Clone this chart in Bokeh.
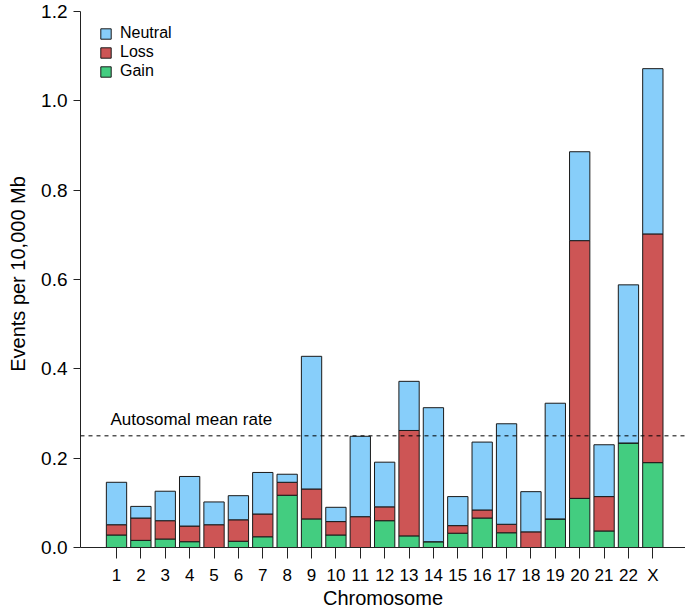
from bokeh.plotting import figure
from bokeh.models import FixedTicker, Span, Legend, LegendItem, ColumnDataSource, NumeralTickFormatter
from bokeh.embed import file_html
from bokeh.resources import INLINE
from bokeh.core.properties import value

chromosomes = ["1", "2", "3", "4", "5", "6", "7", "8", "9", "10", "11", "12",
               "13", "14", "15", "16", "17", "18", "19", "20", "21", "22", "X"]
gain = [0.028, 0.016, 0.019, 0.013, 0.0, 0.014, 0.024, 0.117, 0.064, 0.028, 0.0, 0.060,
        0.026, 0.013, 0.032, 0.066, 0.033, 0.0, 0.064, 0.110, 0.037, 0.234, 0.190]
loss = [0.023, 0.050, 0.041, 0.035, 0.051, 0.048, 0.051, 0.029, 0.067, 0.030, 0.069, 0.031,
        0.236, 0.0, 0.017, 0.018, 0.019, 0.035, 0.0, 0.577, 0.077, 0.0, 0.512]
neutral = [0.095, 0.026, 0.066, 0.111, 0.051, 0.054, 0.093, 0.018, 0.297, 0.032, 0.180, 0.100,
           0.110, 0.300, 0.065, 0.152, 0.225, 0.090, 0.259, 0.199, 0.116, 0.354, 0.370]
autosomal_mean = 0.25
y_ticks = [0.0, 0.2, 0.4, 0.6, 0.8, 1.0, 1.2]

positions = list(range(1, len(chromosomes) + 1))
src = ColumnDataSource(dict(x=positions, Gain=gain, Loss=loss, Neutral=neutral))

FONT = "Liberation Sans"

p = figure(width=685, height=613, output_backend="svg", toolbar_location=None,
           x_range=(-0.477, 24.34), y_range=(0, 1.2246),
           min_border_left=80, min_border_right=0, min_border_top=0, min_border_bottom=66)
p.outline_line_color = None
p.grid.visible = False
p.background_fill_color = "white"
p.border_fill_color = "white"

renderers = p.vbar_stack(["Gain", "Loss", "Neutral"], x="x", width=0.833, source=src,
                         fill_color=["#43CD80", "#CD5555", "#87CEFA"],
                         line_color="#1a1a1a", line_width=1)

p.add_layout(Span(location=autosomal_mean, dimension="width", line_color="black",
                  line_dash="4 4", line_width=1))
p.text(x=[0.754], y=[autosomal_mean], text=["Autosomal mean rate"], text_font=value(FONT),
       text_font_size="17px", text_baseline="middle", text_align="left", y_offset=-16,
       text_color="black")

ya = p.yaxis[0]
ya.ticker = FixedTicker(ticks=y_ticks)
ya.formatter = NumeralTickFormatter(format="0.0")
ya.bounds = (0, 1.2)
ya.minor_tick_line_color = None
ya.major_tick_in = 0
ya.major_tick_out = 7
ya.major_label_standoff = 6
ya.axis_label = "Events per 10,000 Mb"
ya.axis_label_standoff = 9
ya.axis_label_text_font = FONT
ya.axis_label_text_font_style = "normal"
ya.axis_label_text_font_size = "20px"
ya.axis_label_text_color = "black"
ya.major_label_text_font = FONT
ya.major_label_text_font_size = "19px"
ya.major_label_text_color = "black"
ya.axis_line_color = "#222222"
ya.major_tick_line_color = "#222222"

xa = p.xaxis[0]
xa.ticker = FixedTicker(ticks=positions)
xa.major_label_overrides = {pos: lab for pos, lab in zip(positions, chromosomes)}
xa.minor_tick_line_color = None
xa.major_tick_in = 0
xa.major_tick_out = 11
xa.major_label_standoff = 7
xa.axis_label = "Chromosome"
xa.axis_label_standoff = -1
xa.axis_label_text_font = FONT
xa.axis_label_text_font_style = "normal"
xa.axis_label_text_font_size = "20px"
xa.axis_label_text_color = "black"
xa.major_label_text_font = FONT
xa.major_label_text_font_size = "17px"
xa.major_label_text_color = "black"
xa.axis_line_color = "#222222"
xa.major_tick_line_color = "#222222"

legend = Legend(items=[LegendItem(label="Neutral", renderers=[renderers[2]]),
                       LegendItem(label="Loss", renderers=[renderers[1]]),
                       LegendItem(label="Gain", renderers=[renderers[0]])],
                location=(9, 457), margin=0, padding=10,
                glyph_width=13, glyph_height=13, label_standoff=8, spacing=1,
                label_text_font=FONT, label_text_font_size="16px", label_text_color="black",
                border_line_alpha=0, background_fill_alpha=0)
p.add_layout(legend)

open("out.html", "w").write(file_html(p, INLINE))
